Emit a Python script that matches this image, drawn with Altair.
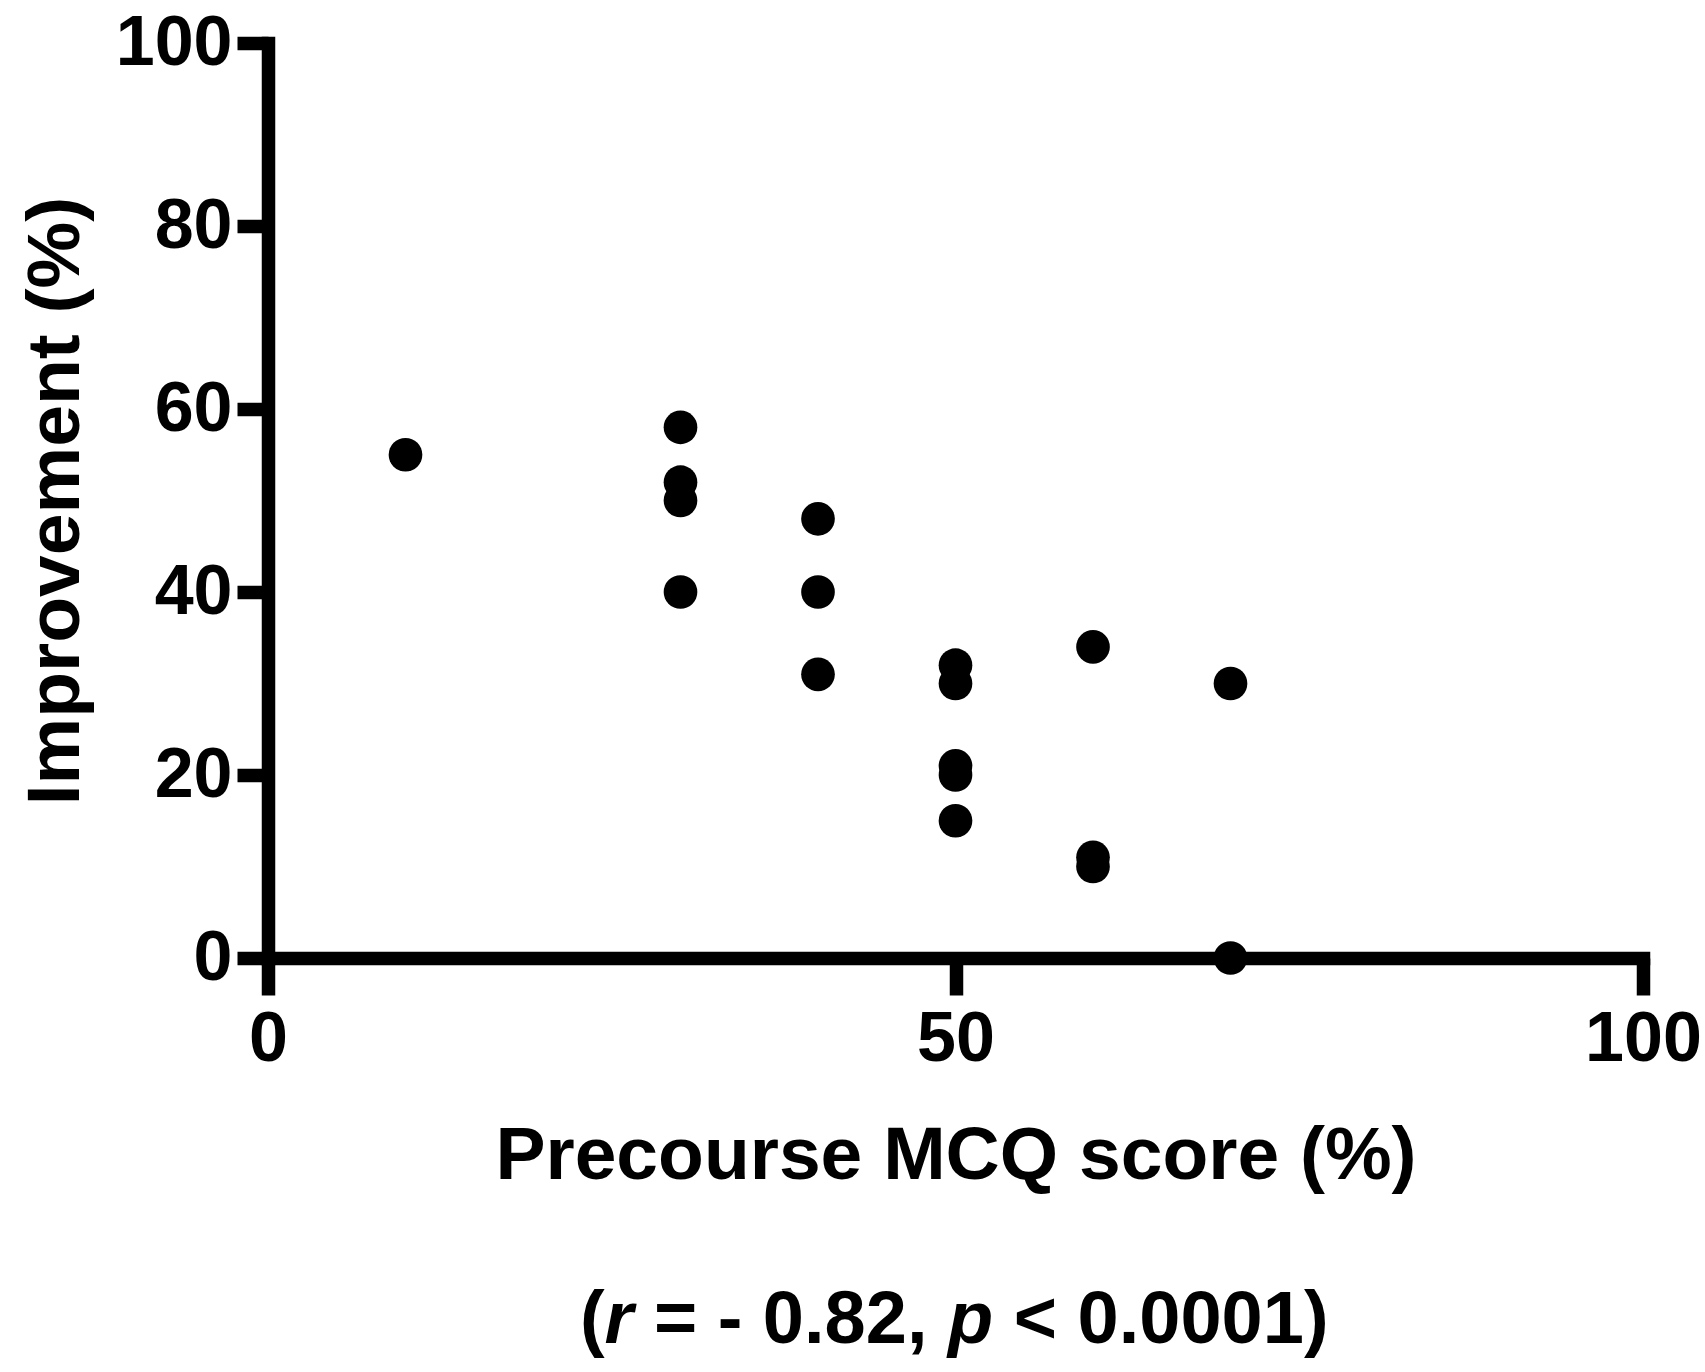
import altair as alt
import pandas as pd

# ---- data ----
precourse = [10, 30, 30, 30, 30, 40, 40, 40, 50, 50, 50, 50, 50, 60, 60, 60, 70, 70]
improvement = [55, 58, 52, 50, 40, 48, 40, 31, 32, 30, 21, 20, 15, 34, 11, 10, 30, 0]
x_ticks = [0, 50, 100]
y_ticks = [0, 20, 40, 60, 80, 100]
x_title = "Precourse MCQ score (%)"
y_title = "Improvement (%)"
stat_segments = ["(", "r", "= - 0.82,", "p", "< 0.0001)"]
stat_italic = [False, True, False, True, False]

FONT = "Liberation Sans"
W, H = 1375, 915

df = pd.DataFrame({"x": precourse, "y": improvement})

common_axis = dict(
    domainColor="black", domainWidth=13.5, domainCap="square",
    tickColor="black", tickWidth=13.5,
    labelFont=FONT, labelFontSize=70, labelFontWeight="bold", labelColor="black",
    titleFont=FONT, titleFontSize=75, titleFontWeight="bold", titleColor="black",
    labelFlush=False, labelOverlap=False, labelBound=False, grid=False,
)

points = alt.Chart(df).mark_circle(size=1134, color="black", opacity=1).encode(
    x=alt.X(
        "x:Q",
        scale=alt.Scale(domain=[0, 100], nice=False, zero=False),
        axis=alt.Axis(
            values=x_ticks, title=x_title, tickSize=37, labelPadding=10,
            titleX=W / 2, titleY=220, titleBaseline="alphabetic", titleAlign="center",
            **common_axis,
        ),
    ),
    y=alt.Y(
        "y:Q",
        scale=alt.Scale(domain=[0, 100], nice=False, zero=False),
        axis=alt.Axis(
            values=y_ticks, title=y_title, tickSize=31, labelPadding=5,
            titleX=-190, titleY=H / 2, titleBaseline="alphabetic", titleAlign="center",
            titleAngle=270,
            **common_axis,
        ),
    ),
)

# stat annotation, built from segments (italic r and p)
FS = 74
unit = FS / 1000.0
widths = {"(": 333, "r": 389, "= - 0.82,": 584 + 278 + 333 + 278 + 556 + 278 + 556 + 556 + 278,
          "p": 611, "< 0.0001)": 584 + 278 + 556 + 278 + 556 + 556 + 556 + 556 + 333}
space = 278 * unit
total = sum(widths[s] for s in stat_segments) * unit + 4 * space
cursor = W / 2 - total / 2 + 9
layers = [points]
for i, (seg, ital) in enumerate(zip(stat_segments, stat_italic)):
    t = alt.Chart(pd.DataFrame({"t": [seg]})).mark_text(
        font=FONT, fontSize=FS, fontWeight="bold",
        fontStyle="italic" if ital else "normal",
        align="left", baseline="alphabetic", color="black",
    ).encode(text="t:N", x=alt.value(cursor), y=alt.value(1300))
    layers.append(t)
    cursor += widths[seg] * unit
    if i in (1, 2, 3):
        cursor += space

chart = alt.layer(*layers).properties(
    width=W, height=H,
    autosize=alt.AutoSizeParams(type="none"),
    padding={"left": 268, "top": 43, "right": 62, "bottom": 414},
    background="white",
).configure_view(stroke=None)

chart.save("out.html", embed_options={"renderer": "svg", "actions": False})
